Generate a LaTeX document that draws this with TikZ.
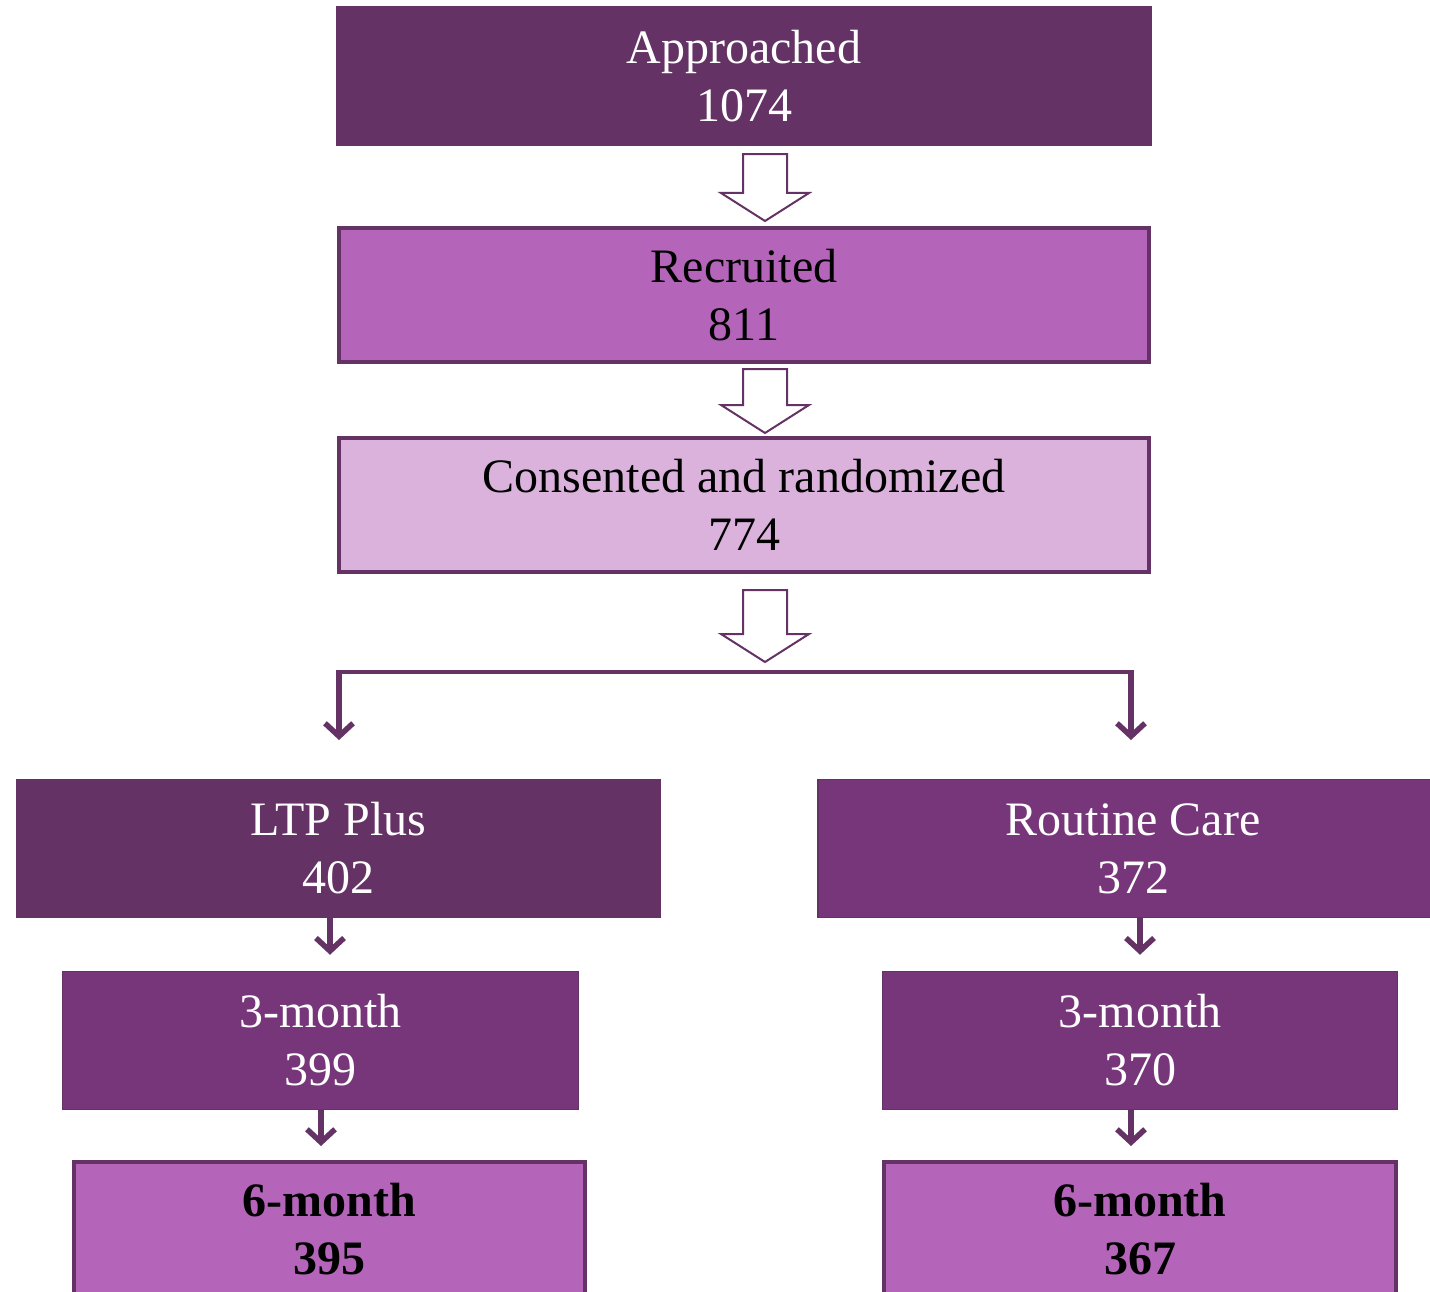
\documentclass[tikz,border=0pt]{standalone}
\usepackage{fontspec}
\setmainfont{Liberation Serif}
\usetikzlibrary{arrows.meta,calc}
\definecolor{plumdark}{HTML}{643264}
\definecolor{plum}{HTML}{763679}
\definecolor{orchid}{HTML}{B464B9}
\definecolor{lilac}{HTML}{DAB2DC}
% hollow block arrow: from point #1 down to point #2, gaps #3 and #4
\newcommand{\hollowdown}[4]{%
  \draw[hollow] let \p1=(#1), \p2=(#2) in
    (\x1-1pt,\y1-#3) -- (\x1+43pt,\y1-#3) -- (\x1+43pt,\y2+#4+28pt) -- (\x1+65pt,\y2+#4+28pt)
    -- (\x1+21pt,\y2+#4) -- (\x1-23pt,\y2+#4+28pt) -- (\x1-1pt,\y2+#4+28pt) -- cycle;}
\begin{document}
\begin{tikzpicture}[x=1pt,y=-1pt,
    box/.style={rectangle, align=center, inner sep=0pt, font=\fontsize{48}{58}\selectfont},
    darkbox/.style={box, fill=plumdark, draw=plumdark, line width=1.5pt, text=white},
    plumbox/.style={box, fill=plum, draw=plumdark, line width=1.5pt, text=white},
    midbox/.style={box, fill=orchid, draw=plumdark, line width=4pt, text=black},
    lightbox/.style={box, fill=lilac, draw=plumdark, line width=4pt, text=black},
    hollow/.style={draw=plumdark, line width=2pt, fill=white, line join=miter},
    thinarrow/.style={draw=plumdark, line width=5.5pt, -{Straight Barb[length=13pt,width=28pt]}},
    forkline/.style={draw=plumdark, line width=4.5pt}]
  \useasboundingbox (0,0) rectangle (1430,1292);
  % top column
  \node[darkbox, minimum width=815pt, minimum height=139pt] (app) at (744,76) {Approached\\1074};
  \node[midbox, minimum width=810pt, minimum height=134pt] (rec) at (744,295) {Recruited\\811};
  \node[lightbox, minimum width=810pt, minimum height=134pt] (cons) at (744,505) {Consented and randomized\\774};
  \coordinate (fork) at (744,672);
  \coordinate (forkL) at (339,672);
  \coordinate (forkR) at (1131,672);
  \coordinate (ltpIn) at (339,740);
  \coordinate (rcIn) at (1131,740);
  \hollowdown{app.south}{rec.north}{8pt}{5pt}
  \hollowdown{rec.south}{cons.north}{5pt}{3pt}
  \hollowdown{cons.south}{fork}{16pt}{10pt}
  % split
  \draw[forkline] (forkL) -- (forkR);
  \draw[thinarrow] ([yshift=2pt]forkL) -- (ltpIn);
  \draw[thinarrow] ([yshift=2pt]forkR) -- (rcIn);
  % arms
  \node[darkbox, minimum width=644pt, minimum height=138pt] (ltp) at (338.5,848.5) {LTP Plus\\402};
  \node[plumbox, minimum width=630pt, minimum height=138pt] (rc) at (1133,848.5) {Routine Care\\372};
  \node[plumbox, minimum width=516pt, minimum height=138pt] (m3L) at (320.5,1040.5) {3-month\\399};
  \node[plumbox, minimum width=515pt, minimum height=138pt] (m3R) at (1140,1040.5) {3-month\\370};
  \node[midbox, minimum width=511pt, minimum height=134pt, font=\fontsize{48}{58}\selectfont\bfseries] (m6L) at (329.5,1229) {6-month\\395};
  \node[midbox, minimum width=512pt, minimum height=134pt, font=\fontsize{48}{58}\selectfont\bfseries] (m6R) at (1140,1229) {6-month\\367};
  \draw[thinarrow] ([xshift=-8.5pt]ltp.south) -- ([xshift=9.5pt,yshift=16pt]m3L.north);
  \draw[thinarrow] ([xshift=7pt]rc.south) -- ([yshift=16pt]m3R.north);
  \draw[thinarrow] ([xshift=0.5pt]m3L.south) -- ([xshift=-8.5pt,yshift=14pt]m6L.north);
  \draw[thinarrow] ([xshift=-9pt]m3R.south) -- ([xshift=-9pt,yshift=14pt]m6R.north);
\end{tikzpicture}
\end{document}
